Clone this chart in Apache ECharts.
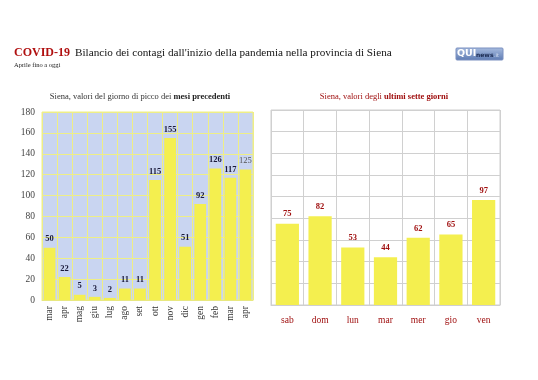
<!DOCTYPE html>
<html><head><meta charset="utf-8">
<script src="https://cdn.jsdelivr.net/npm/echarts@6/dist/echarts.min.js"></script>
<style>html,body{margin:0;padding:0;background:#fff}#c{width:538px;height:380px}</style>
</head><body><div id="c"></div>
<script>
const monthCats = ['mar','apr','mag','giu','lug','ago','set','ott','nov','dic','gen','feb','mar','apr'];
const monthVals = [50,22,5,3,2,11,11,115,155,51,92,126,117,125];
const dayCats = ['sab','dom','lun','mar','mer','gio','ven'];
const dayVals = [75,82,53,44,62,65,97];
const yTicks = [0,180,20];

const F = '"Liberation Serif","DejaVu Serif",serif';
const chart = echarts.init(document.getElementById('c'));
const yellow = '#f4ef4f';

const leftData = monthVals.map((v,i)=> i===monthVals.length-1
  ? {value:v, label:{fontWeight:'normal', color:'#555', fontSize:8.5}}
  : v);

chart.setOption({
  animation:false,
  backgroundColor:'#fff',
  title:[
    {text:'{a|COVID-19} {b|Bilancio dei contagi dall\'inizio della pandemia nella provincia di Siena}',
     left:14, top:44, padding:0,
     textStyle:{fontWeight:'normal', rich:{a:{fontFamily:F,fontSize:12,fontWeight:'bold',color:'#b01010'},
                      b:{fontFamily:F,fontSize:11.2,fontWeight:'normal',color:'#111'}}}},
    {text:'Aprile fino a oggi', left:14, top:62, padding:0, textStyle:{fontFamily:F,fontSize:6.5,fontWeight:'normal',color:'#222'}},
    {text:'{a|Siena, valori del giorno di picco dei }{b|mesi precedenti}', left:140, top:92, padding:0, textAlign:'center',
     textStyle:{fontWeight:'normal', rich:{a:{fontFamily:F,fontSize:8.5,fontWeight:'normal',color:'#333'},b:{fontFamily:F,fontSize:8.5,fontWeight:'bold',color:'#222'}}}},
    {text:'{a|Siena, valori degli }{b|ultimi sette giorni}', left:384, top:92, padding:0, textAlign:'center',
     textStyle:{fontWeight:'normal', rich:{a:{fontFamily:F,fontSize:8.5,fontWeight:'normal',color:'#a01010'},b:{fontFamily:F,fontSize:8.5,fontWeight:'bold',color:'#a01010'}}}}
  ],
  graphic:[
    {type:'rect', shape:{x:456,y:48,width:47,height:12,r:1}, z:10,
     style:{fill:new echarts.graphic.LinearGradient(0,0,0,1,[{offset:0,color:'#a9bde0'},{offset:1,color:'#5c7ab2'}]), stroke:'#7b90c0'}},
    {type:'text', x:457, y:49, z:11, style:{text:'QUI', fontFamily:'"DejaVu Sans",sans-serif', fontWeight:'bold', fontSize:9.5, fill:'#fff'}},
    {type:'text', x:476, y:52, z:11, style:{text:'news', fontFamily:'"DejaVu Sans",sans-serif', fontWeight:'bold', fontSize:6, fill:'#1a2a50'}},
    {type:'text', x:494, y:53, z:11, style:{text:'.it', fontFamily:'"DejaVu Sans",sans-serif', fontSize:5, fill:'#dde6f5'}}
  ],
  grid:[
    {left:42, top:112, width:211, height:188, show:true, backgroundColor:'#c9d5f1', borderColor:'#eeee86', borderWidth:1},
    {left:271, top:110, width:229, height:195, show:true, backgroundColor:'#fff', borderColor:'#cfcfcf', borderWidth:1}
  ],
  xAxis:[
    {type:'category', gridIndex:0, data:monthCats,
     axisLine:{show:true, lineStyle:{color:'#e8e880'}}, axisTick:{show:false},
     splitLine:{show:true, lineStyle:{color:'#eeee86', width:1}},
     axisLabel:{rotate:90, fontFamily:F, fontSize:9.5, color:'#333', margin:6}},
    {type:'category', gridIndex:1, data:dayCats,
     axisLine:{show:true, lineStyle:{color:'#cfcfcf'}}, axisTick:{show:false},
     splitLine:{show:true, lineStyle:{color:'#d0d0d0', width:1}},
     axisLabel:{fontFamily:F, fontSize:9.5, color:'#a01010', margin:10}}
  ],
  yAxis:[
    {type:'value', gridIndex:0, min:yTicks[0], max:yTicks[1], interval:yTicks[2],
     axisLine:{show:false}, axisTick:{show:false},
     splitLine:{lineStyle:{color:'#eeee86', width:1}},
     axisLabel:{fontFamily:F, fontSize:9.5, color:'#444', margin:7}},
    {type:'value', gridIndex:1, min:yTicks[0], max:yTicks[1], interval:yTicks[2],
     axisLine:{show:false}, axisTick:{show:false},
     splitLine:{lineStyle:{color:'#d0d0d0', width:1}},
     axisLabel:{show:false}}
  ],
  series:[
    {type:'bar', xAxisIndex:0, yAxisIndex:0, data:leftData, barWidth:'78%',
     itemStyle:{color:yellow},
     label:{show:true, position:'top', distance:4, fontFamily:F, fontSize:8.5, fontWeight:'bold', color:'#1a1a3a'}},
    {type:'bar', xAxisIndex:1, yAxisIndex:1, data:dayVals, barWidth:'71%',
     itemStyle:{color:yellow},
     label:{show:true, position:'top', distance:5, fontFamily:F, fontSize:8.5, fontWeight:'bold', color:'#a01010'}}
  ]
});
</script></body></html>
